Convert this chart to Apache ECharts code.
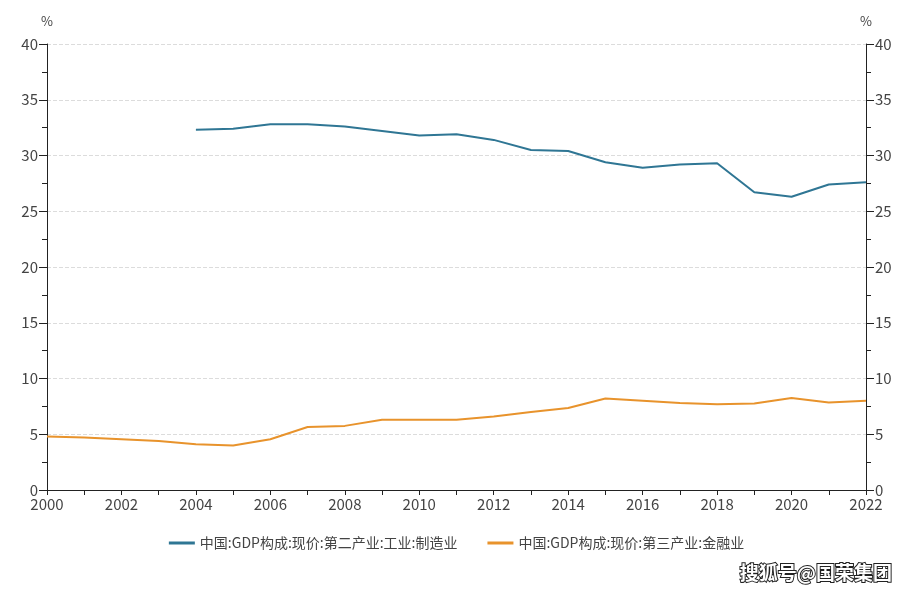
<!DOCTYPE html>
<html>
<head>
<meta charset="utf-8">
<script src="https://cdn.jsdelivr.net/npm/echarts@6/dist/echarts.min.js"></script>
<style>
  html, body { margin: 0; padding: 0; background: #fff; }
  #main { width: 913px; height: 593px; }
</style>
</head>
<body>
<div id="main"></div>
<script>
var years = ['2000','2001','2002','2003','2004','2005','2006','2007','2008','2009','2010',
  '2011','2012','2013','2014','2015','2016','2017','2018','2019','2020','2021','2022'];
var manuName = '中国:GDP构成:现价:第二产业:工业:制造业';
var finName = '中国:GDP构成:现价:第三产业:金融业';
var manuValues = [null, null, null, null, 32.3, 32.4, 32.8, 32.8, 32.6, 32.2, 31.8,
  31.9, 31.4, 30.5, 30.4, 29.4, 28.9, 29.2, 29.3, 26.7, 26.3, 27.4, 27.6];
var finValues = [4.8, 4.7, 4.55, 4.4, 4.1, 4.0, 4.55, 5.65, 5.75, 6.3, 6.3,
  6.3, 6.6, 7.0, 7.35, 8.2, 8.0, 7.8, 7.7, 7.75, 8.25, 7.85, 8.0];

var dom = document.getElementById('main');
var myChart = echarts.init(dom, null, { renderer: 'canvas' });
var font = '"Noto Sans CJK SC", "Noto Sans", sans-serif';

function yAxis(pos) {
  return {
    type: 'value',
    position: pos,
    min: 0,
    max: 40,
    interval: 5,
    name: '%',
    nameGap: 16,
    nameTextStyle: { color: '#444', fontSize: 13, fontFamily: font, align: 'center' },
    axisLine: { show: true, lineStyle: { color: '#222', width: 1 } },
    axisTick: { show: true, inside: false, length: 8, lineStyle: { color: '#222' } },
    minorTick: { show: true, splitNumber: 2, length: 5, lineStyle: { color: '#222' } },
    axisLabel: { color: '#444', fontSize: 15, fontFamily: font, margin: 9 },
    splitLine: pos === 'left' ? { show: true, lineStyle: { color: '#dcdcdc', type: 'dashed' } } : { show: false }
  };
}

var option = {
  backgroundColor: '#fff',
  animation: false,
  grid: { left: 47, right: 47, top: 44, bottom: 103, containLabel: false },
  legend: {
    top: 531,
    left: 'center',
    itemWidth: 26,
    itemHeight: 3,
    itemGap: 30,
    icon: 'rect',
    textStyle: { color: '#444', fontSize: 14, fontFamily: font },
    data: [manuName, finName]
  },
  xAxis: {
    type: 'category',
    data: years,
    boundaryGap: false,
    axisLine: { lineStyle: { color: '#222', width: 1 } },
    axisTick: { show: true, interval: 0, length: 5, lineStyle: { color: '#222' } },
    axisLabel: { interval: 1, color: '#444', fontSize: 15, fontFamily: font, margin: 7 },
    splitLine: { show: false }
  },
  yAxis: [yAxis('left'), yAxis('right')],
  graphic: [{
    type: 'text',
    right: 20,
    bottom: 10,
    style: {
      text: '搜狐号@国荣集团',
      fill: '#fff',
      stroke: '#222',
      lineWidth: 2,
      fontSize: 19,
      fontWeight: 'bold',
      fontFamily: font
    }
  }],
  series: [
    {
      name: manuName,
      type: 'line',
      data: manuValues,
      symbol: 'none',
      connectNulls: false,
      lineStyle: { color: '#2f7694', width: 2 },
      itemStyle: { color: '#2f7694' }
    },
    {
      name: finName,
      type: 'line',
      data: finValues,
      symbol: 'none',
      lineStyle: { color: '#e8932c', width: 2 },
      itemStyle: { color: '#e8932c' }
    }
  ]
};

if (option && typeof option === 'object') {
  myChart.setOption(option);
}
window.addEventListener('resize', myChart.resize);
</script>
</body>
</html>
